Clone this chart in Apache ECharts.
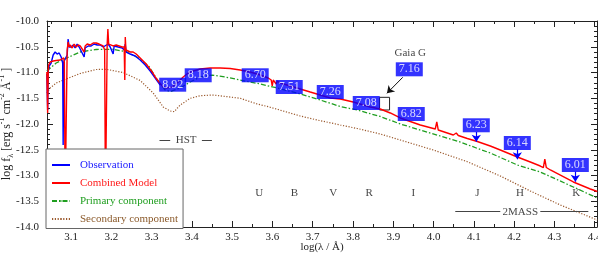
<!DOCTYPE html>
<html><head><meta charset="utf-8">
<script src="https://cdn.jsdelivr.net/npm/echarts@6/dist/echarts.min.js"></script>
<style>html,body{margin:0;padding:0;background:#fff}#c{width:598px;height:256px}</style>
</head><body><div id="c"></div><script>
// ---- data (log lambda [A], log flux) ----
const obsData = [
[3.0396,-11.029],[3.0416,-11.728],[3.0429,-10.990],[3.0453,-10.874],[3.0503,-10.816],[3.0553,-10.660],
[3.0602,-10.602],[3.0652,-10.641],[3.0702,-10.621],[3.0752,-10.699],[3.0789,-10.816],[3.0801,-12.408],
[3.0816,-10.796],[3.0839,-10.757],[3.0901,-10.660],[3.0925,-10.350],[3.0950,-10.505],[3.1000,-10.505],
[3.1050,-10.466],[3.1099,-10.524],[3.1149,-10.447],[3.1199,-10.505],[3.1248,-10.485],[3.1323,-10.699],
[3.1348,-10.524],[3.1422,-10.485],[3.1497,-10.485],[3.1571,-10.447],[3.1646,-10.466],[3.1720,-10.466],
[3.1795,-10.505],[3.1820,-10.524],[3.1919,-10.447],[3.1969,-10.505],[3.2043,-10.641],[3.2068,-10.485],
[3.2168,-10.505],[3.2267,-10.524],[3.2317,-10.563],[3.2342,-10.447],[3.2366,-10.602],[3.2466,-10.641],
[3.2590,-10.680],[3.2714,-10.757],[3.2839,-10.854],[3.2963,-10.971],[3.3087,-11.107],[3.3211,-11.243]
];
const modelData = [
[3.0396,-10.990],[3.0416,-11.786],[3.0431,-10.951],[3.0441,-10.854],[3.0478,-10.796],[3.0553,-10.777],
[3.0627,-10.767],[3.0727,-10.757],[3.0776,-10.777],[3.0814,-10.718],[3.0831,-10.796],[3.0851,-13.5],
[3.0876,-13.5],[3.0901,-10.563],[3.0925,-10.408],[3.0950,-10.505],[3.0975,-10.466],[3.1025,-10.524],
[3.1074,-10.447],[3.1124,-10.505],[3.1174,-10.466],[3.1224,-10.485],[3.1273,-10.447],[3.1323,-10.602],
[3.1348,-10.485],[3.1398,-10.447],[3.1472,-10.466],[3.1547,-10.427],[3.1621,-10.427],[3.1696,-10.447],
[3.1745,-10.427],[3.1795,-10.485],[3.1832,-10.563],[3.1852,-13.5],[3.1875,-13.5],[3.1894,-10.466],
[3.1912,-10.155],[3.1932,-10.447],[3.1969,-10.466],[3.2043,-10.485],[3.2118,-10.466],[3.2192,-10.485],
[3.2267,-10.505],[3.2317,-10.505],[3.2332,-11.146],[3.2344,-10.311],[3.2361,-10.563],[3.2391,-10.563],
[3.2466,-10.602],[3.2540,-10.602],[3.2615,-10.641],[3.2714,-10.718],[3.2789,-10.777],[3.2863,-10.835],
[3.2938,-10.913],[3.3012,-10.990],[3.3087,-11.087],[3.3161,-11.165],[3.3261,-11.262],[3.3360,-11.301],
[3.3509,-11.282],[3.3658,-11.184],[3.3783,-11.087],[3.3907,-11.010],[3.4031,-10.971],[3.4205,-10.932],
[3.4453,-10.913],[3.4702,-10.913],[3.4950,-10.922],[3.5199,-10.951],[3.5447,-10.990],[3.5696,-11.049],
[3.5894,-11.107],[3.5969,-11.146],[3.5994,-11.262],[3.6019,-11.146],[3.6093,-11.223],[3.6118,-11.165],
[3.6193,-11.204],[3.6441,-11.262],[3.6689,-11.320],[3.6938,-11.379],[3.7186,-11.437],[3.7435,-11.495],
[3.7683,-11.515],[3.8006,-11.573],[3.8429,-11.670],[3.8677,-11.709],[3.8925,-11.786],[3.9174,-11.883],
[3.9422,-11.951],[3.9671,-12.019],[4.0043,-12.097],[4.0081,-11.961],[4.0118,-12.117],[4.0491,-12.214],
[4.0565,-12.175],[4.0615,-12.223],[4.0839,-12.282],[4.1087,-12.340],[4.1410,-12.427],[4.1658,-12.505],
[4.2081,-12.641],[4.2404,-12.738],[4.2652,-12.816],[4.2727,-12.845],[4.2764,-12.680],[4.2801,-12.845],
[4.2901,-12.893],[4.3472,-13.126],[4.3894,-13.262],[4.4068,-13.311]
];
const primaryData = [
[3.0396,-10.971],[3.0627,-10.816],[3.0876,-10.724],[3.1224,-10.602],[3.1621,-10.553],[3.2019,-10.549],
[3.2366,-10.596],[3.2689,-10.724],[3.2938,-10.887],[3.3112,-11.107],[3.3236,-11.243],[3.3335,-11.340],
[3.3460,-11.369],[3.3708,-11.301],[3.3957,-11.184],[3.4205,-11.087],[3.4503,-11.049],[3.4826,-11.087],
[3.5199,-11.146],[3.5696,-11.223],[3.6118,-11.301],[3.6689,-11.417],[3.7186,-11.534],[3.7683,-11.660],
[3.8106,-11.728],[3.8677,-11.854],[3.9174,-12.000],[3.9671,-12.117],[4.0168,-12.233],[4.0665,-12.350],
[4.1062,-12.466],[4.1410,-12.563],[4.2081,-12.796],[4.2652,-12.932],[4.3472,-13.223],[4.4068,-13.437]
];
const secondaryData = [
[3.0396,-11.398],[3.0478,-11.301],[3.0627,-11.204],[3.0876,-11.126],[3.1224,-11.019],[3.1621,-10.942],
[3.1870,-10.938],[3.2292,-11.000],[3.2714,-11.155],[3.3037,-11.398],[3.3286,-11.670],[3.3460,-11.748],
[3.3559,-11.761],[3.3708,-11.631],[3.3957,-11.501],[3.4205,-11.450],[3.4528,-11.437],[3.4876,-11.470],
[3.5199,-11.501],[3.5621,-11.612],[3.5894,-11.664],[3.6267,-11.748],[3.6689,-11.845],[3.7112,-11.922],
[3.7683,-12.019],[3.8106,-12.087],[3.8677,-12.194],[3.9174,-12.311],[3.9994,-12.505],[4.0839,-12.732],
[4.1658,-13.010],[4.2404,-13.301],[4.3149,-13.573],[4.4068,-13.864]
];
// magnitude boxes
const magText = ['8.92','8.18','6.70','7.51','7.26','7.08','7.16','6.82','6.23','6.14','6.01'];
const magX = [3.3522,3.4155,3.5571,3.6416,3.7435,3.8329,3.9398,3.9447,4.1062,4.2081,4.3522];
const magY = [-11.237,-11.054,-11.054,-11.282,-11.379,-11.592,-10.938,-11.806,-12.025,-12.369,-12.796];
// arrows from box to photometric point
const arrowFrom = [[4.1062,-12.155],[4.2081,-12.491],[4.3522,-12.926]];
const arrowTo   = [[4.1062,-12.344],[4.2081,-12.685],[4.3522,-13.120]];
const gaiaArrow = [[3.9236,-11.093],[3.8843,-11.404]];
const gaiaBox = [[3.8660,-11.482],[3.8908,-11.728]];
// band labels
const bandNames = ['U','B','V','R','I','J','H','K'];
const bandX = [3.567,3.6548,3.7509,3.8404,3.9497,4.1087,4.2148,4.3547];
const bandY = -13.35;
const notes = [['Gaia G',3.9422,-10.616],['HST',3.3857,-12.311],['2MASS',4.2155,-13.703]];
const noteLines = [[[3.3194,-12.311],[3.3460,-12.311]],[[3.4247,-12.311],[3.4496,-12.311]],
                   [[4.0540,-13.703],[4.1658,-13.703]],[[4.2652,-13.703],[4.3845,-13.703]]];

const FF = '"Liberation Serif","Times New Roman",serif';
const chart = echarts.init(document.getElementById('c'), null, {renderer:'canvas'});
const axisCommonX = {
  type:'value', min:3.04, max:4.406, splitNumber:12,
  axisLine:{show:true, lineStyle:{color:'#222', width:1}},
  axisTick:{inside:true, length:6, lineStyle:{color:'#222'}},
  minorTick:{show:true, splitNumber:2, length:3, lineStyle:{color:'#222'}},
  splitLine:{show:false}
};
const axisCommonY = {
  type:'value', min:-14, max:-10, interval:0.5,
  axisLine:{show:true, lineStyle:{color:'#222', width:1}},
  axisTick:{inside:true, length:6, lineStyle:{color:'#222'}},
  minorTick:{show:true, splitNumber:5, length:3, lineStyle:{color:'#222'}},
  splitLine:{show:false}
};
const option = {
  animation:false,
  backgroundColor:'#fff',
  grid:{left:47, right:1, top:21, bottom:29, containLabel:false, outerBoundsMode:'none'},
  xAxis:[
    Object.assign({}, axisCommonX, {position:'bottom',
      axisLabel:{formatter:v=>v.toFixed(1), showMinLabel:false, showMaxLabel:false, margin:5,
        fontFamily:FF, fontSize:11, color:'#222'},
      name:'log(λ / Å)', nameLocation:'middle', nameGap:15, nameMoveOverlap:false,
      nameTextStyle:{fontFamily:FF, fontSize:11, color:'#222'}}),
    Object.assign({}, axisCommonX, {position:'top', axisLabel:{show:false}})
  ],
  yAxis:[
    Object.assign({}, axisCommonY, {position:'left',
      axisLabel:{formatter:v=>v.toFixed(1), margin:8, fontFamily:FF, fontSize:11, color:'#222'},
      name:'{a|log f}{s|λ}{a| [erg s}{p|-1}{a| cm}{p|-2}{a| Å}{p|-1}{a| ]}',
      nameLocation:'middle', nameGap:32, nameMoveOverlap:false,
      nameTextStyle:{color:'#222', rich:{
        a:{fontFamily:FF, fontSize:12, color:'#222', lineHeight:17, verticalAlign:'middle'},
        s:{fontFamily:FF, fontSize:8, color:'#222', lineHeight:17, verticalAlign:'bottom'},
        p:{fontFamily:FF, fontSize:8, color:'#222', lineHeight:17, verticalAlign:'top'}}}}),
    Object.assign({}, axisCommonY, {position:'right', axisLabel:{show:false}})
  ],
  legend:{
    orient:'vertical', left:46, top:149, z:10,
    backgroundColor:'#fff', borderColor:'#666', borderWidth:1, borderRadius:0,
    padding:[9.5,5,3,5], itemGap:5, itemWidth:18, itemHeight:2,
    textStyle:{fontFamily:FF, fontSize:11, padding:[0,0,0,5], lineHeight:13},
    data:[
      {name:'Observation', textStyle:{color:'#1a1aff'}},
      {name:'Combined Model', textStyle:{color:'#ff1a1a'}},
      {name:'Primary component', textStyle:{color:'#1f9e1f'}},
      {name:'Secondary component', textStyle:{color:'#8b5a2b'}}
    ]
  },
  series:[
    {name:'Secondary component', type:'line', data:secondaryData, symbol:'none', showSymbol:false,
     lineStyle:{color:'#9b5a2e', width:1.2, type:[1.2,1.6]}, itemStyle:{color:'#9b5a2e'}, z:2},
    {name:'Primary component', type:'line', data:primaryData, symbol:'none', showSymbol:false,
     lineStyle:{color:'#1f9e1f', width:1.3, type:[5,2,1.5,2]}, itemStyle:{color:'#1f9e1f'}, z:2},
    {name:'Observation', type:'line', data:obsData, symbol:'none', showSymbol:false,
     lineStyle:{color:'#0000ff', width:1.4}, itemStyle:{color:'#0000ff'}, z:3},
    {name:'Combined Model', type:'line', data:modelData, symbol:'none', showSymbol:false,
     lineStyle:{color:'#ff0000', width:1.4}, itemStyle:{color:'#ff0000'}, z:3},
    {name:'notes', type:'scatter', symbolSize:1, itemStyle:{color:'rgba(0,0,0,0)'}, z:4, silent:true,
     data: notes.map(n=>({value:[n[1],n[2]], name:n[0]})).concat(bandNames.map((b,i)=>({value:[bandX[i],bandY], name:b}))),
     label:{show:true, position:'inside', formatter:p=>p.name, fontFamily:FF, fontSize:11, color:'#111'},
     markLine:{silent:true, symbol:['none','none'], label:{show:false},
       lineStyle:{color:'#444', width:1, type:'solid'},
       data: noteLines.map(l=>[{coord:l[0]},{coord:l[1]}])
         .concat([[{coord:gaiaArrow[0], lineStyle:{color:'#111'}, symbol:'none'},
                   {coord:gaiaArrow[1], symbol:'arrow', symbolSize:7}]])
         .concat(arrowFrom.map((a,i)=>[{coord:a, lineStyle:{color:'#0000ff', width:1.2}, symbol:'none'},
                   {coord:arrowTo[i], symbol:'arrow', symbolSize:7}]))},
     markArea:{silent:true, itemStyle:{color:'rgba(0,0,0,0)', borderColor:'#222', borderWidth:1},
       data:[[{coord:gaiaBox[0]},{coord:gaiaBox[1]}]]}},
    {name:'mags', type:'scatter', symbolSize:1, itemStyle:{color:'rgba(0,0,0,0)'}, z:6, silent:true,
     data: magX.map((x,i)=>({value:[x,magY[i]], name:magText[i]})),
     label:{show:true, position:'inside', formatter:p=>p.name, fontFamily:FF, fontSize:12, lineHeight:12,
       color:'#fff', backgroundColor:'#0000ff', padding:[1,3,1,3]}}
  ]
};
chart.setOption(option);
</script></body></html>
